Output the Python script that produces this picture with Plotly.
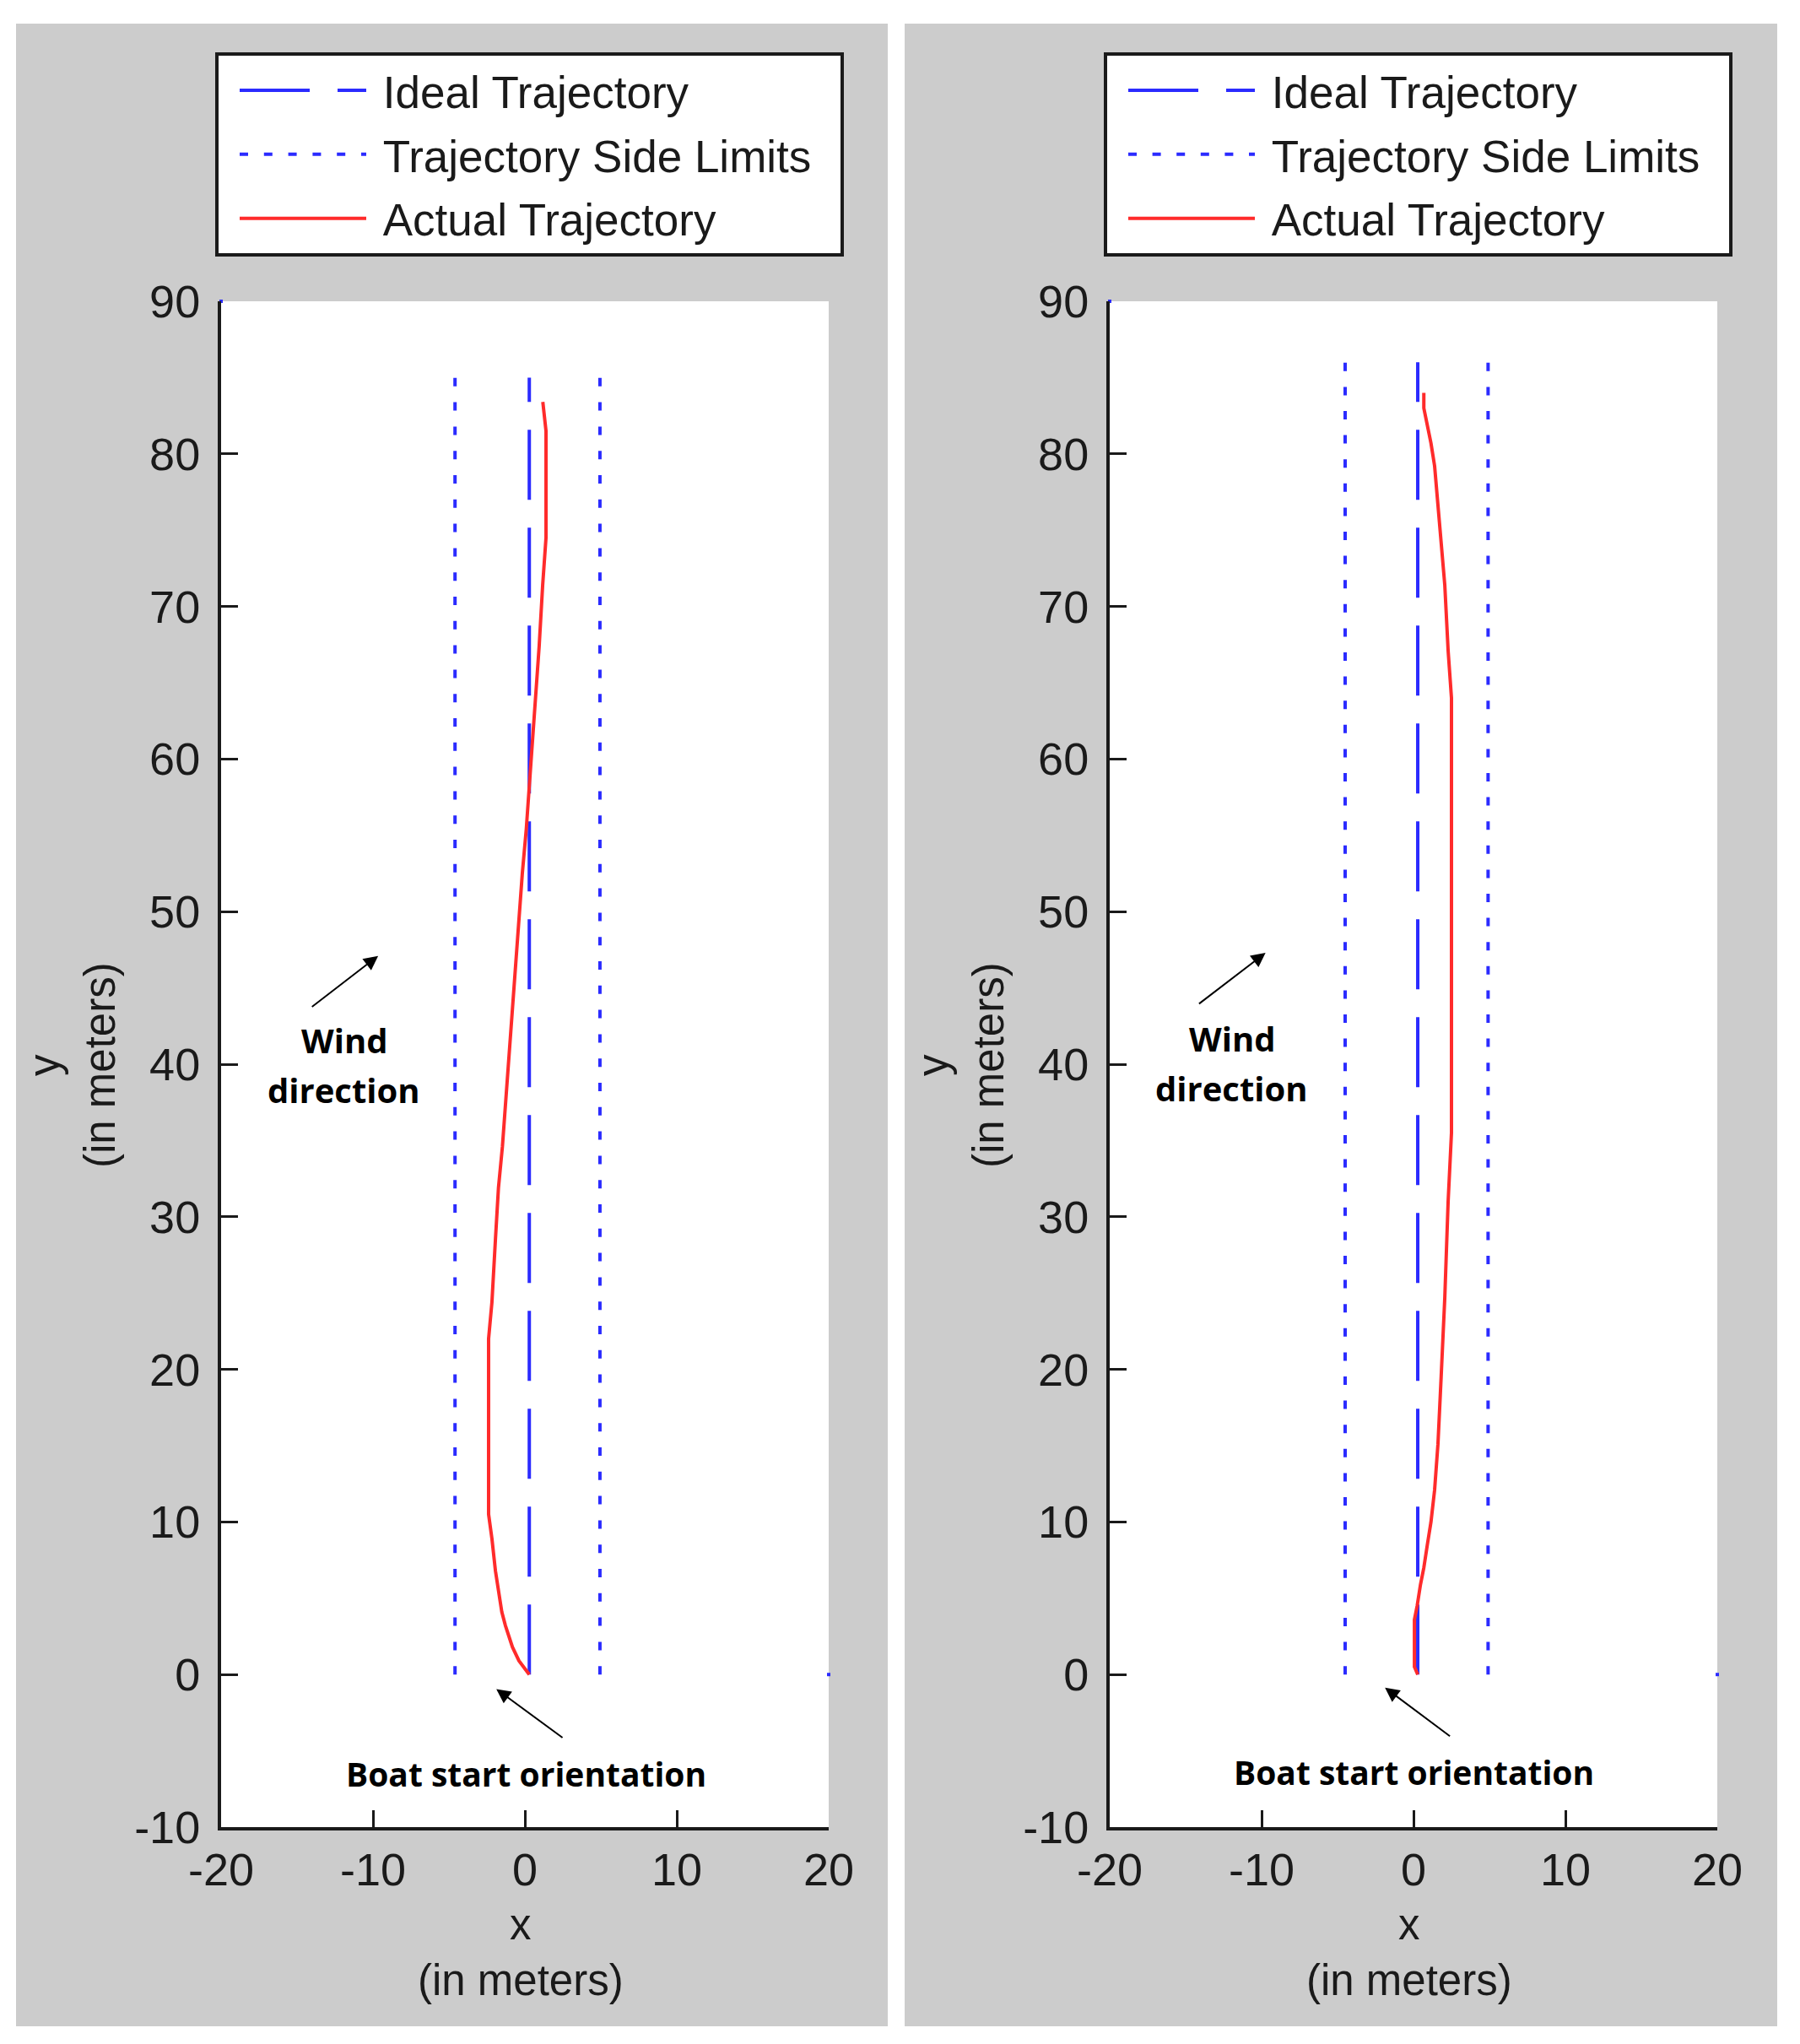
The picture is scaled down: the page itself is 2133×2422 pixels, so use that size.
import plotly.graph_objects as go

# --- data ---
ideal_left_x = [0.29, 0.29]
ideal_left_y = [0, 85]
lim_left_lo_x = [-4.6, -4.6]
lim_left_hi_x = [4.94, 4.94]
lim_left_y = [0, 85]
actual_left_x = [0.29, -0.39, -0.82, -1.06, -1.28, -1.52, -1.72, -1.94, -2.17, -2.39,
                 -2.39, -2.17, -1.94, -1.74, -1.48, -1.26, -1.04, -0.82, -0.63, -0.37,
                 -0.17, 0.09, 0.29, 0.52, 0.74, 0.94, 1.17, 1.39, 1.39, 1.18]
actual_left_y = [0, 0.9, 1.8, 2.5, 3.2, 4.1, 5.3, 6.8, 8.9, 10.5,
                 22.0, 24.4, 28.5, 31.9, 34.6, 37.6, 40.8, 43.6, 46.3, 49.4,
                 52.5, 55.4, 58.2, 61.2, 64.3, 67.4, 71.4, 74.5, 81.5, 83.4]

ideal_right_x = [0.28, 0.28]
ideal_right_y = [0, 86]
lim_right_lo_x = [-4.5, -4.5]
lim_right_hi_x = [4.91, 4.91]
lim_right_y = [0, 86]
actual_right_x = [0.28, 0.06, 0.06, 0.24, 0.46, 0.68, 0.91, 1.15, 1.39, 1.61, 1.82, 2.06,
                  2.28, 2.5, 2.5, 2.28, 2.06, 1.82, 1.61, 1.39, 1.15, 0.91, 0.68, 0.68]
actual_right_y = [0, 0.5, 3.6, 4.5, 5.9, 7.0, 8.5, 10.0, 12.1, 15.1, 19.5, 24.7,
                  31.0, 35.5, 64.0, 67.1, 71.4, 74.4, 77.1, 79.2, 80.7, 81.9, 83.0, 84.0]

# stray corner points of the limits plot
corner_x = [-20, 20]
corner_y = [90, 0]

x_ticks = [-20, -10, 0, 10, 20]
x_tick_text = ["-20", "-10", "0", "10", "20"]
y_ticks = [-10, 0, 10, 20, 30, 40, 50, 60, 70, 80, 90]
y_tick_text = ["-10", "0", "10", "20", "30", "40", "50", "60", "70", "80", "90"]

BLUE = "#2b2bff"
RED = "#ff2b2b"
GRAY = "#cccccc"
INK = "#1a1a1a"
SANS = "Liberation Sans, Arial, sans-serif"
BOLD = "Open Sans, Noto Sans, sans-serif"

W, H = 2133, 2422
OFF = 8  # page body margin shifts the whole figure


def px(v):
    return (v - OFF) / W


def py(v):
    return 1 - (v - OFF) / H


fig = go.Figure()

panels = [
    dict(xa="x", ya="y", leg="legend", ideal=(ideal_left_x, ideal_left_y),
         lo=(lim_left_lo_x, lim_left_y), hi=(lim_left_hi_x, lim_left_y),
         act=(actual_left_x, actual_left_y), dot="10px,18.8px"),
    dict(xa="x2", ya="y2", leg="legend2", ideal=(ideal_right_x, ideal_right_y),
         lo=(lim_right_lo_x, lim_right_y), hi=(lim_right_hi_x, lim_right_y),
         act=(actual_right_x, actual_right_y), dot="10px,18.6px"),
]

pad = "\u00a0\u00a0"
for p in panels:
    fig.add_trace(go.Scatter(x=p["ideal"][0], y=p["ideal"][1], mode="lines",
                             name="\u00a0Ideal Trajectory" + pad, legend=p["leg"],
                             legendgroup="a",
                             line=dict(color=BLUE, width=4, dash="83px,33px"),
                             xaxis=p["xa"], yaxis=p["ya"]))
    fig.add_trace(go.Scatter(x=p["lo"][0], y=p["lo"][1], mode="lines",
                             name="\u00a0Trajectory Side Limits" + pad, legend=p["leg"],
                             legendgroup="b",
                             line=dict(color=BLUE, width=4, dash=p["dot"]),
                             xaxis=p["xa"], yaxis=p["ya"]))
    fig.add_trace(go.Scatter(x=p["hi"][0], y=p["hi"][1], mode="lines",
                             showlegend=False,
                             line=dict(color=BLUE, width=4, dash=p["dot"]),
                             xaxis=p["xa"], yaxis=p["ya"]))
    fig.add_trace(go.Scatter(x=p["act"][0], y=p["act"][1], mode="lines",
                             name="\u00a0Actual Trajectory" + pad, legend=p["leg"],
                             legendgroup="c",
                             line=dict(color=RED, width=4),
                             xaxis=p["xa"], yaxis=p["ya"]))
    fig.add_trace(go.Scatter(x=corner_x, y=corner_y, mode="markers", showlegend=False,
                             marker=dict(color=BLUE, size=4, symbol="square"),
                             xaxis=p["xa"], yaxis=p["ya"], cliponaxis=False))

axis_common = dict(showgrid=False, zeroline=False, showline=True, automargin=False,
                   linecolor=INK, linewidth=4, ticks="inside", ticklen=20,
                   tickwidth=3, tickcolor=INK, mirror=False,
                   tickfont=dict(family=SANS, size=54, color=INK))

ydom = [py(2165), py(357)]
fig.update_layout(
    xaxis=dict(axis_common, range=[-20, 20], tickvals=x_ticks, ticktext=x_tick_text,
               domain=[px(262), px(982)], anchor="y"),
    yaxis=dict(axis_common, range=[-10, 90], tickvals=y_ticks, ticktext=y_tick_text,
               domain=ydom, anchor="x", ticklabelstandoff=10),
    xaxis2=dict(axis_common, range=[-20, 20], tickvals=x_ticks, ticktext=x_tick_text,
                domain=[px(1315), px(2035)], anchor="y2"),
    yaxis2=dict(axis_common, range=[-10, 90], tickvals=y_ticks, ticktext=y_tick_text,
                domain=ydom, anchor="x2", ticklabelstandoff=10),
)

leg_common = dict(bgcolor="white", bordercolor=INK, borderwidth=4,
                  itemwidth=150, indentation=20, xanchor="left", yanchor="top",
                  font=dict(family=SANS, size=53, color=INK),
                  tracegroupgap=4, itemclick=False)
fig.update_layout(
    legend=dict(leg_common, x=px(255), y=py(62)),
    legend2=dict(leg_common, x=px(1308), y=py(62)),
)

# grey figure panels and white plot areas
shapes = []
for x0, x1 in [(19, 1052), (1072, 2106)]:
    shapes.append(dict(type="rect", xref="paper", yref="paper",
                       x0=px(x0), x1=px(x1), y0=py(2401), y1=py(28),
                       fillcolor=GRAY, line=dict(width=0), layer="below"))
for xa, ya in [("x", "y"), ("x2", "y2")]:
    shapes.append(dict(type="rect", xref=xa + " domain", yref=ya + " domain",
                       x0=0, x1=1, y0=0, y1=1, fillcolor="white",
                       line=dict(width=0), layer="below"))
fig.update_layout(shapes=shapes)

# annotations: text labels and arrows
wind_word_xy = [(-11.9, 41.6), (-11.97, 41.67)]
dir_word_xy = [(-11.9, 38.33), (-11.97, 38.42)]
wind_tail = [(-14.1, 43.7), (-14.2, 43.9)]
wind_head = [(-9.66, 47.1), (-9.74, 47.3)]
boat_text_xy = [(0.09, -6.5), (0.0, -6.4)]
boat_tail = [(2.56, -4.2), (2.48, -4.1)]
boat_head = [(-1.88, -0.95), (-1.88, -0.86)]

ann = []
for i, (xa, ya) in enumerate([("x", "y"), ("x2", "y2")]):
    for xy, word in [(wind_word_xy[i], "<b>Wind</b>"), (dir_word_xy[i], "<b>direction</b>")]:
        ann.append(dict(x=xy[0], y=xy[1], xref=xa, yref=ya,
                        xanchor="center", yanchor="middle",
                        text=word, showarrow=False,
                        font=dict(family=BOLD, size=40, color="black")))
    ann.append(dict(x=boat_text_xy[i][0], y=boat_text_xy[i][1], xref=xa, yref=ya,
                    xanchor="center", yanchor="middle",
                    text="<b>Boat start orientation</b>", showarrow=False,
                    font=dict(family=BOLD, size=39, color="black")))
    for tail, head in [(wind_tail[i], wind_head[i]), (boat_tail[i], boat_head[i])]:
        ann.append(dict(x=head[0], y=head[1], ax=tail[0], ay=tail[1],
                        xref=xa, yref=ya, axref=xa, ayref=ya, text="",
                        showarrow=True, arrowhead=2, arrowsize=1.7,
                        arrowwidth=2, arrowcolor="black"))

# axis titles
for off in [0, 1053]:
    ann.append(dict(x=px(85 + off), y=py(1262), xref="paper", yref="paper",
                    xanchor="center", yanchor="middle",
                    text="y<br>(in meters)", textangle=-90, showarrow=False,
                    font=dict(family=SANS, size=51, color=INK)))
    ann.append(dict(x=px(617 + off), y=py(2313), xref="paper", yref="paper",
                    xanchor="center", yanchor="middle",
                    text="x<br>(in meters)", showarrow=False,
                    font=dict(family=SANS, size=51, color=INK)))
fig.update_layout(annotations=ann)

fig.update_layout(width=W, height=H,
                  margin=dict(l=0, r=0, t=0, b=0, pad=0, autoexpand=False),
                  paper_bgcolor="white", plot_bgcolor="rgba(0,0,0,0)")

fig.write_html("out.html")
